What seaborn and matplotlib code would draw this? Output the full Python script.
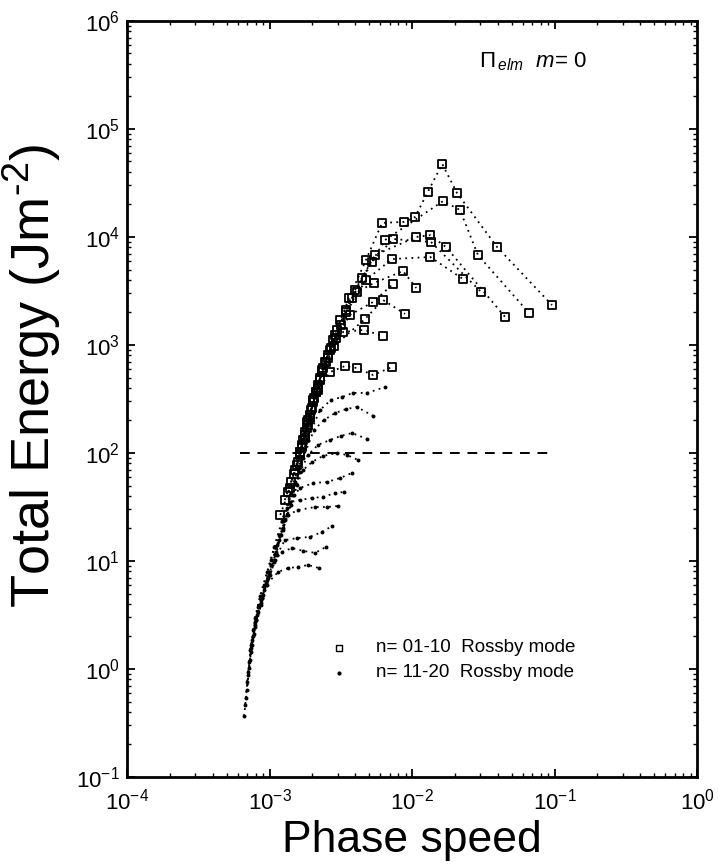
import matplotlib
matplotlib.use("Agg")
import matplotlib.pyplot as plt
import pandas as pd
import seaborn as sns

# n = 01-10 Rossby modes (open squares), one list per n
low_n_speed = [
    [1.83e-3, 2.05e-3, 2.37e-3, 2.88e-3, 3.61e-3, 4.75e-3, 6.16e-3, 8.79e-3, 1.05e-2, 1.29e-2, 1.63e-2, 2.07e-2, 3.95e-2, 9.60e-2],
    [1.77e-3, 1.99e-3, 2.26e-3, 2.70e-3, 3.44e-3, 4.46e-3, 6.47e-3, 1.65e-2, 2.17e-2, 2.90e-2, 6.62e-2],
    [1.69e-3, 1.92e-3, 2.19e-3, 2.57e-3, 3.13e-3, 3.98e-3, 5.50e-3, 1.07e-2, 1.34e-2, 1.73e-2, 4.50e-2],
    [1.64e-3, 1.86e-3, 2.12e-3, 2.49e-3, 2.98e-3, 3.79e-3, 5.24e-3, 7.36e-3, 1.36e-2, 3.05e-2],
    [1.56e-3, 1.77e-3, 2.02e-3, 2.34e-3, 2.79e-3, 3.44e-3, 4.75e-3, 7.24e-3, 1.34e-2, 2.28e-2],
    [1.49e-3, 1.69e-3, 1.92e-3, 2.19e-3, 2.57e-3, 3.18e-3, 4.11e-3, 5.41e-3, 8.65e-3, 1.07e-2],
    [1.42e-3, 1.64e-3, 1.83e-3, 2.12e-3, 2.45e-3, 2.93e-3, 3.67e-3, 5.33e-3, 7.36e-3],
    [1.35e-3, 1.58e-3, 1.77e-3, 2.02e-3, 2.34e-3, 2.84e-3, 4.68e-3, 6.26e-3, 8.93e-3],
    [1.28e-3, 1.51e-3, 1.72e-3, 1.95e-3, 2.26e-3, 2.66e-3, 3.28e-3, 4.60e-3, 6.26e-3],
    [1.19e-3, 1.39e-3, 1.64e-3, 1.86e-3, 2.19e-3, 2.66e-3, 3.39e-3, 4.11e-3, 5.33e-3, 7.24e-3],
]
low_n_energy = [
    [170, 323, 612, 1240, 2720, 6120, 1.35e4, 1.38e4, 1.53e4, 2.61e4, 4.74e4, 2.55e4, 8080, 2340],
    [138, 261, 494, 937, 2110, 4170, 9380, 2.15e4, 1.78e4, 6810, 1980],
    [114, 211, 400, 758, 1700, 3230, 6810, 1.0e4, 1.04e4, 8080, 1820],
    [95.8, 182, 367, 697, 1380, 2720, 5870, 9580, 8990, 3100],
    [77.4, 147, 310, 587, 1110, 2020, 4000, 6250, 6530, 4080],
    [64.0, 119, 225, 427, 807, 1530, 3100, 3750, 4840, 3370],
    [53.8, 102, 194, 367, 697, 1160, 1900, 2500, 3670],
    [43.5, 82.6, 156, 297, 562, 980, 1740, 2610, 1940],
    [36.7, 69.6, 132, 250, 474, 900, 1320, 1380, 1210],
    [26.7, 47.4, 102, 202, 383, 562, 639, 612, 527, 625],
]

# n = 11-20 Rossby modes (small dots), one list per n
high_n_speed = [
    [7.91e-4, 8.58e-4, 9.60e-4, 1.08e-3, 1.22e-3, 1.39e-3, 1.58e-3, 1.83e-3, 2.26e-3, 2.70e-3, 3.23e-3, 3.85e-3, 4.83e-3, 6.47e-3],
    [7.66e-4, 8.30e-4, 9.15e-4, 1.02e-3, 1.17e-3, 1.33e-3, 1.51e-3, 1.72e-3, 2.05e-3, 2.41e-3, 2.88e-3, 3.44e-3, 4.11e-3, 5.33e-3],
    [7.42e-4, 8.04e-4, 8.86e-4, 9.92e-4, 1.13e-3, 1.28e-3, 1.46e-3, 1.64e-3, 1.86e-3, 2.19e-3, 2.66e-3, 3.18e-3, 3.79e-3, 4.83e-3],
    [7.30e-4, 7.91e-4, 8.72e-4, 9.60e-4, 1.09e-3, 1.24e-3, 1.42e-3, 1.56e-3, 1.72e-3, 1.99e-3, 2.37e-3, 2.98e-3, 3.50e-3, 4.18e-3],
    [7.18e-4, 7.66e-4, 8.30e-4, 9.15e-4, 1.02e-3, 1.17e-3, 1.33e-3, 1.49e-3, 1.64e-3, 2.02e-3, 2.53e-3, 3.13e-3, 3.79e-3],
    [7.07e-4, 7.54e-4, 8.04e-4, 8.86e-4, 9.92e-4, 1.11e-3, 1.24e-3, 1.39e-3, 1.64e-3, 1.99e-3, 2.37e-3, 2.88e-3, 3.33e-3],
    [6.95e-4, 7.42e-4, 7.91e-4, 8.72e-4, 9.60e-4, 1.08e-3, 1.20e-3, 1.35e-3, 1.58e-3, 2.09e-3, 2.53e-3, 3.03e-3],
    [6.84e-4, 7.18e-4, 7.54e-4, 8.17e-4, 9.00e-4, 1.01e-3, 1.13e-3, 1.28e-3, 1.56e-3, 1.92e-3, 2.34e-3, 2.75e-3],
    [6.73e-4, 7.07e-4, 7.42e-4, 7.91e-4, 8.72e-4, 9.76e-4, 1.09e-3, 1.22e-3, 1.44e-3, 1.72e-3, 2.09e-3, 2.49e-3],
    [6.62e-4, 6.95e-4, 7.30e-4, 7.78e-4, 8.44e-4, 9.44e-4, 1.15e-3, 1.35e-3, 1.58e-3, 1.86e-3, 2.22e-3],
]
high_n_energy = [
    [2.97, 4.74, 7.91, 13.5, 23.4, 40.8, 72.6, 132, 250, 310, 330, 360, 360, 408],
    [2.30, 3.75, 6.0, 10.2, 17.4, 31.0, 53.8, 89.9, 163, 202, 234, 255, 267, 220],
    [1.67, 2.84, 4.54, 7.91, 14.1, 24.0, 40.8, 66.7, 95.8, 119, 132, 144, 153, 135],
    [1.50, 2.55, 4.08, 6.67, 11.4, 19.4, 33.0, 50.6, 69.6, 82.6, 93.8, 100, 95.8, 86.1],
    [1.16, 2.02, 3.37, 5.38, 9.18, 15.6, 26.7, 40.8, 47.4, 52.8, 53.8, 58.7, 65.3],
    [0.938, 1.67, 2.84, 4.54, 7.42, 12.1, 20.2, 35.2, 36.7, 38.3, 39.2, 42.6, 43.5],
    [0.759, 1.44, 2.45, 3.92, 6.0, 9.8, 17.4, 26.7, 29.6, 31.6, 31.6, 32.3],
    [0.538, 1.02, 1.86, 3.16, 4.84, 7.42, 11.4, 15.6, 16.3, 16.7, 18.6, 21.1],
    [0.464, 0.880, 1.56, 2.72, 4.35, 6.96, 10.2, 12.1, 13.2, 12.4, 11.9, 13.5],
    [0.367, 0.640, 1.21, 2.11, 3.92, 6.0, 7.91, 8.61, 8.80, 9.18, 8.61],
]

# reference level (dashed line)
ref_speed = [6.2e-4, 1.0e-1]
ref_energy = [100, 100]

rows = []
for k, (xs, ys) in enumerate(zip(low_n_speed, low_n_energy)):
    for x, y in zip(xs, ys):
        rows.append({"speed": x, "energy": y, "n": k + 1, "group": "low"})
for k, (xs, ys) in enumerate(zip(high_n_speed, high_n_energy)):
    for x, y in zip(xs, ys):
        rows.append({"speed": x, "energy": y, "n": k + 11, "group": "high"})
df = pd.DataFrame(rows)
low = df[df["group"] == "low"]
high = df[df["group"] == "high"]

sns.set_style("ticks")
plt.rcParams["font.family"] = ["Liberation Sans", "DejaVu Sans"]
plt.rcParams["mathtext.fontset"] = "custom"
plt.rcParams["mathtext.rm"] = "Liberation Sans"
plt.rcParams["mathtext.it"] = "Liberation Sans:italic"
for key in ["text.color", "axes.labelcolor", "xtick.color", "ytick.color", "axes.edgecolor"]:
    plt.rcParams[key] = "black"

fig = plt.figure(figsize=(7.18, 8.67), dpi=100)
ax = fig.add_axes([0.1769, 0.1038, 0.7939, 0.8720])
ax.set_xscale("log")
ax.set_yscale("log")

dots = (0, (1, 2.4))
sns.lineplot(data=df, x="speed", y="energy", units="n", estimator=None, sort=False,
             color="black", linewidth=1.3, linestyle=dots, legend=False, ax=ax)
sns.scatterplot(data=low, x="speed", y="energy", marker="s", s=30,
                facecolors="none", edgecolors="black", linewidths=1.3, legend=False, ax=ax)
sns.scatterplot(data=high, x="speed", y="energy", marker="o", s=8,
                color="black", linewidth=0, legend=False, ax=ax)
ax.plot(ref_speed, ref_energy, color="black", linewidth=1.4, linestyle=(0, (5, 4)))

ax.set_xlim(1e-4, 1)
ax.set_ylim(1e-1, 1e6)
ax.set_xlabel("Phase speed", fontsize=32, labelpad=4)
ax.set_ylabel(r"Total Energy (Jm$^{\text{-}2}$)", fontsize=39)
ax.yaxis.set_label_coords(-0.112, 0.53)

for side in ["left", "right", "top", "bottom"]:
    ax.spines[side].set_linewidth(2.0)
ax.tick_params(which="both", direction="in", top=True, right=True, labelsize=16)
ax.tick_params(which="major", length=6, width=1.3)
ax.tick_params(which="minor", length=3, width=1.0)
ax.tick_params(axis="x", pad=8)
ax.tick_params(axis="y", pad=5)

# legend drawn by hand like the original
ax.scatter([0.372], [0.171], marker="s", s=16, facecolors="none", edgecolors="black",
           linewidths=1.0, transform=ax.transAxes)
ax.scatter([0.372], [0.1376], marker="o", s=4, color="black", transform=ax.transAxes)
ax.text(0.437, 0.171, "n= 01-10  Rossby mode", transform=ax.transAxes,
        fontsize=13.5, va="center")
ax.text(0.437, 0.1376, "n= 11-20  Rossby mode", transform=ax.transAxes,
        fontsize=13.5, va="center")

ax.text(0.618, 0.946, r"$\Pi_{\,elm}$  $m$= $0$", transform=ax.transAxes,
        fontsize=16, va="center")

fig.savefig("out.png", dpi=100)
